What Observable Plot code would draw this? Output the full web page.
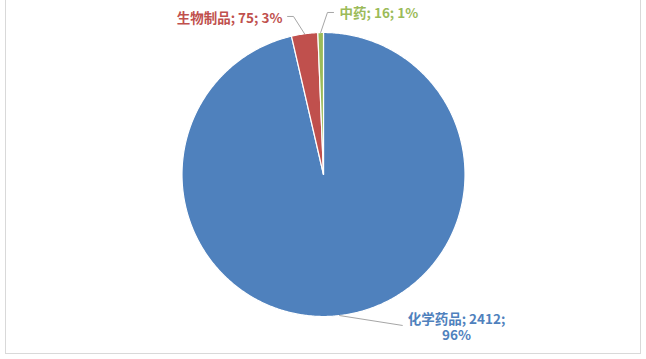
<!DOCTYPE html>
<html>
<head>
<meta charset="utf-8">
<script src="https://cdn.jsdelivr.net/npm/d3@7"></script>
<script src="https://cdn.jsdelivr.net/npm/@observablehq/plot@0.6"></script>
<style>
  html, body { margin: 0; padding: 0; background: #fff; }
  #wrap { position: relative; width: 646px; height: 359px; overflow: hidden; }
  #frame { position: absolute; left: 5px; top: -6px; width: 634px; height: 358px;
           border: 1.5px solid #d9d9d9; pointer-events: none; }
  svg { display: block; }
</style>
</head>
<body>
<div id="wrap"><div id="frame"></div></div>
<script>
// Registered products by type
const categories = ["化学药品", "生物制品", "中药"];
const counts = [2412, 75, 16];
const colors = ["#4F81BD", "#C0504D", "#9BBB59"];

// Label placement (pie radius units): leader elbow, leader end, text anchor point
const labelLayout = {
  "化学药品": {elbow: [0.558, -1.063], end: [0.558, -1.063], text: [0.94, -1.072], anchor: "middle", wrap: true},
  "生物制品": {elbow: [-0.212, 1.113], end: [-0.254, 1.113], text: [-0.29, 1.106], anchor: "end", wrap: false},
  "中药":     {elbow: [0.028, 1.141],  end: [0.071, 1.141],  text: [0.113, 1.137], anchor: "start", wrap: false}
};

const total = d3.sum(counts);
const data = categories.map((c, i) => ({cat: c, value: counts[i]}));
const arcs = d3.pie().sort(null).value(d => d.value)(data);

// Slice outlines as closed polygons in unit coordinates (angle 0 at 12 o'clock, clockwise)
const slicePts = [];
for (const a of arcs) {
  const n = Math.max(4, Math.ceil((a.endAngle - a.startAngle) / (Math.PI / 360)));
  slicePts.push({cat: a.data.cat, x: 0, y: 0});
  for (let k = 0; k <= n; k++) {
    const t = a.startAngle + (a.endAngle - a.startAngle) * k / n;
    slicePts.push({cat: a.data.cat, x: Math.sin(t), y: Math.cos(t)});
  }
  slicePts.push({cat: a.data.cat, x: 0, y: 0});
}

// Leader lines from the middle of each slice's rim to its label
const leaderPts = [];
const labels = [];
for (const a of arcs) {
  const c = a.data.cat, L = labelLayout[c];
  const m = (a.startAngle + a.endAngle) / 2;
  leaderPts.push({cat: c, x: Math.sin(m), y: Math.cos(m)});
  leaderPts.push({cat: c, x: L.elbow[0], y: L.elbow[1]});
  leaderPts.push({cat: c, x: L.end[0], y: L.end[1]});
  const pct = Math.round(a.data.value / total * 100);
  labels.push({
    cat: c, x: L.text[0], y: L.text[1], anchor: L.anchor,
    text: `${c}; ${a.data.value};` + (L.wrap ? "\n" : " ") + `${pct}%`
  });
}

const font = "'Noto Sans CJK SC', 'Noto Sans', sans-serif";
const textMark = (anchor) => Plot.text(labels.filter(d => d.anchor === anchor), {
  x: "x", y: "y", text: "text", fill: "cat", textAnchor: anchor,
  lineAnchor: "middle", lineHeight: 1.18, fontSize: 13.5, fontWeight: "bold", fontFamily: font
});

const chart = Plot.plot({
  width: 646,
  height: 359,
  x: {domain: [-1, 1], range: [181.5, 464.5], axis: null},
  y: {domain: [-1, 1], range: [316, 32], axis: null},
  color: {domain: categories, range: colors},
  style: {background: "transparent", fontFamily: font},
  marks: [
    Plot.line(slicePts, {x: "x", y: "y", z: "cat", fill: "cat", stroke: "#fff", strokeWidth: 1.2, strokeLinejoin: "round", curve: "linear"}),
    Plot.line(leaderPts, {x: "x", y: "y", z: "cat", stroke: "#a6a6a6", strokeWidth: 1}),
    textMark("middle"),
    textMark("start"),
    textMark("end")
  ]
});

document.getElementById("wrap").insertBefore(chart, document.getElementById("frame"));
</script>
</body>
</html>
